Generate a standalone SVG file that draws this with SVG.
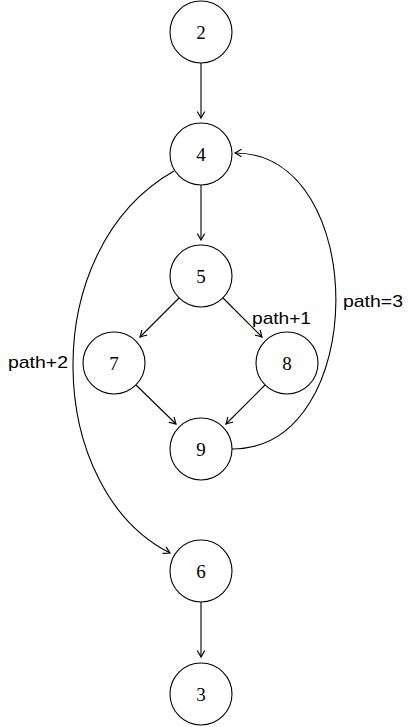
<svg xmlns="http://www.w3.org/2000/svg" width="412" height="727" viewBox="0 0 412 727">
<style>
.node circle{fill:#fff;stroke:#000;stroke-width:1.1}
.node text{font-family:"Liberation Serif",serif;font-size:19px;text-anchor:middle;fill:#000}
.edge{fill:none;stroke:#000;stroke-width:1.1;marker-end:url(#arr)}
.lbl{font-family:"Liberation Sans","DejaVu Sans",sans-serif;font-size:17px;fill:#000}
</style>
<defs>
<marker id="arr" viewBox="-8 -5 10 10" refX="0" refY="0" markerWidth="10" markerHeight="10" markerUnits="userSpaceOnUse" orient="auto">
<path d="M-6,-3.5 Q-1.5,-0.8 0,0 Q-1.5,0.8 -6,3.5" fill="none" stroke="#000" stroke-width="1.2" stroke-linecap="round"/>
</marker>
</defs>
<g id="connectors">
<line class="edge" x1="201" y1="63" x2="201" y2="118"/>
<line class="edge" x1="201" y1="185" x2="201" y2="240"/>
<line class="edge" x1="179" y1="298" x2="140" y2="337"/>
<line class="edge" x1="223" y1="298" x2="262" y2="337"/>
<line class="edge" x1="136" y1="385" x2="176" y2="424"/>
<line class="edge" x1="265" y1="385" x2="226" y2="424"/>
<path class="edge" d="M174,171 C35,250 45,490 170,553"/>
<path class="edge" d="M232,449 C370,449 370,153 235,153"/>
<line class="edge" x1="201" y1="602" x2="201" y2="657"/>
<text class="lbl" x="8" y="368" textLength="60" lengthAdjust="spacingAndGlyphs">path+2</text>
<text class="lbl" x="252" y="324" textLength="59" lengthAdjust="spacingAndGlyphs">path+1</text>
<text class="lbl" x="343" y="307" textLength="60" lengthAdjust="spacingAndGlyphs">path=3</text>
</g>
<g id="n2" class="node"><circle cx="201" cy="32" r="31"/><text x="201" y="38.5">2</text></g>
<g id="n4" class="node"><circle cx="201" cy="154" r="31"/><text x="201" y="160.5">4</text></g>
<g id="n5" class="node"><circle cx="201" cy="276" r="31"/><text x="201" y="282.5">5</text></g>
<g id="n7" class="node"><circle cx="114" cy="363" r="31"/><text x="114" y="369.5">7</text></g>
<g id="n8" class="node"><circle cx="287" cy="363" r="31"/><text x="287" y="369.5">8</text></g>
<g id="n9" class="node"><circle cx="201" cy="449" r="31"/><text x="201" y="455.5">9</text></g>
<g id="n6" class="node"><circle cx="201" cy="571" r="31"/><text x="201" y="577.5">6</text></g>
<g id="n3" class="node"><circle cx="201" cy="694" r="31"/><text x="201" y="700.5">3</text></g>
</svg>
